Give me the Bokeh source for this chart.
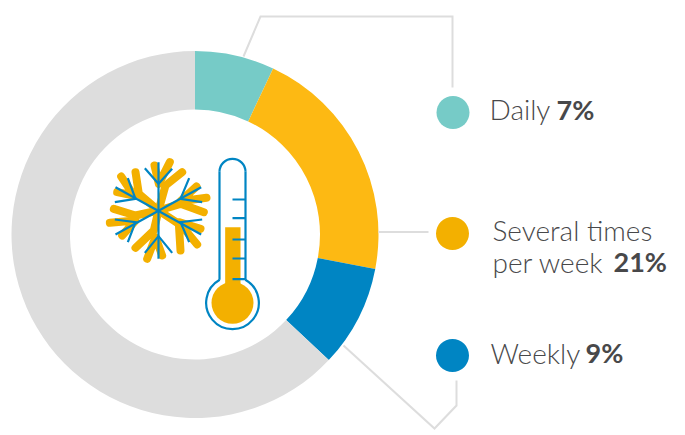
import numpy as np
from bokeh.plotting import figure
from bokeh.embed import file_html
from bokeh.resources import INLINE
from bokeh.core.properties import value

W, H = 685, 435
categories = ["Daily", "Several times per week", "Weekly", "Other"]
shares = [7, 21, 9, 63]
ring_colors = ["#76CBC7", "#FDB913", "#0085C3", "#DDDDDD"]
dot_colors = ["#76CBC7", "#F3B000", "#0085C3"]
dot_x = [452.5, 452, 452]
dot_y = [112, 233, 355]
GREY = "#DDDDDD"; BLUE = "#0085C3"; AMBER = "#F3B000"; INK = "#48484A"
FONT = "Lato Light"

light_labels = ["Daily", "Several times", "per week", "Weekly"]
light_x = [489, 492, 492, 490]
light_y = [108.5, 229, 261, 352]
bold_labels = ["7%", "21%", "9%"]
bold_x = [556, 613, 585]
bold_y = [108.5, 261, 352]

leaders = [
    ([243, 260, 452, 452], [56, 16, 16, 87]),
    ([378, 428], [231.5, 231.5]),
    ([343, 434, 456, 456], [345, 428, 405, 380]),
]

# icon strokes, in the zoomed-crop units
flake_amber = [
    [(135, 95), (145, 160), (204, 210), (190, 270), (135, 322)],
    [(275, 95), (225, 135), (204, 210), (265, 250), (270, 330)],
    [(70, 205), (135, 225), (204, 210), (270, 190), (340, 215)],
    [(192, 75), (205, 130), (238, 65)],
    [(92, 108), (130, 165), (80, 155)],
    [(348, 172), (270, 182), (318, 138)],
    [(58, 247), (135, 240), (95, 285)],
    [(320, 312), (265, 245), (330, 265)],
    [(170, 355), (195, 290), (215, 345)],
]
flake_blue = [
    [(204, 65), (204, 355)],
    [(163, 83), (204, 130), (245, 85)],
    [(163, 337), (204, 287), (245, 337)],
    [(75, 140), (332, 282)],
    [(332, 140), (75, 282)],
    [(73, 185), (135, 175), (112, 113)],
    [(335, 185), (270, 175), (296, 113)],
    [(335, 237), (270, 245), (296, 305)],
    [(73, 237), (135, 245), (112, 305)],
]
tick_levels = [177, 233, 297, 354, 416]


def X(z):
    return 90 + z / 3


def Y(z):
    return H - (140 + z / 3)


p = figure(width=W, height=H, x_range=(0, W), y_range=(0, H),
           output_backend="svg", toolbar_location=None, min_border=0,
           outline_line_color=None, border_fill_color="white")
p.axis.visible = False
p.grid.visible = False

cx, cy = 194.5, H - 234
cum = np.cumsum([0] + shares) / 100 * 2 * np.pi
p.annular_wedge(x=cx, y=cy, inner_radius=125, outer_radius=183.5,
                start_angle=np.pi / 2 - cum[:-1], end_angle=np.pi / 2 - cum[1:],
                direction="clock", fill_color=ring_colors, line_color=None)

for xs, ys in leaders:
    p.line(xs, [H - v for v in ys], line_color=GREY, line_width=2, line_join="miter")

p.circle(x=dot_x, y=[H - v for v in dot_y], radius=16.5, fill_color=dot_colors, line_color=None)

p.multi_line([[X(a) for a, b in s] for s in flake_amber], [[Y(b) for a, b in s] for s in flake_amber],
             line_color=AMBER, line_width=8, line_cap="round", line_join="round")
p.multi_line([[X(a) for a, b in s] for s in flake_blue], [[Y(b) for a, b in s] for s in flake_blue],
             line_color=BLUE, line_width=2.2, line_cap="butt", line_join="miter")

# thermometer
p.quad(left=X(404), right=X(450), top=Y(260), bottom=Y(450), fill_color=AMBER, line_color=None)
p.circle(x=[X(426)], y=[Y(487)], radius=63 / 3, fill_color=AMBER, line_color=None)
p.arc(x=X(426), y=Y(94), radius=39 / 3, start_angle=0, end_angle=np.pi,
      line_color=BLUE, line_width=2.2)
p.arc(x=X(426), y=Y(487), radius=79 / 3, start_angle=np.deg2rad(119), end_angle=np.deg2rad(61),
      direction="anticlock", line_color=BLUE, line_width=2.2)
p.multi_line([[X(387), X(387)], [X(465), X(465)]], [[Y(94), Y(418)], [Y(94), Y(418)]],
             line_color=BLUE, line_width=2.2)
p.multi_line([[X(426), X(465)] for t in tick_levels], [[Y(t), Y(t)] for t in tick_levels],
             line_color=BLUE, line_width=2.2)

p.text(x=light_x, y=[H - v for v in light_y], text=light_labels, text_font=value(FONT),
       text_font_size="28px", text_color=INK, text_baseline="alphabetic")
p.text(x=bold_x, y=[H - v for v in bold_y], text=bold_labels, text_font=value("Lato"),
       text_font_size="27px", text_font_style="bold", text_color=INK, text_baseline="alphabetic")

open("out.html", "w").write(file_html(p, INLINE))
